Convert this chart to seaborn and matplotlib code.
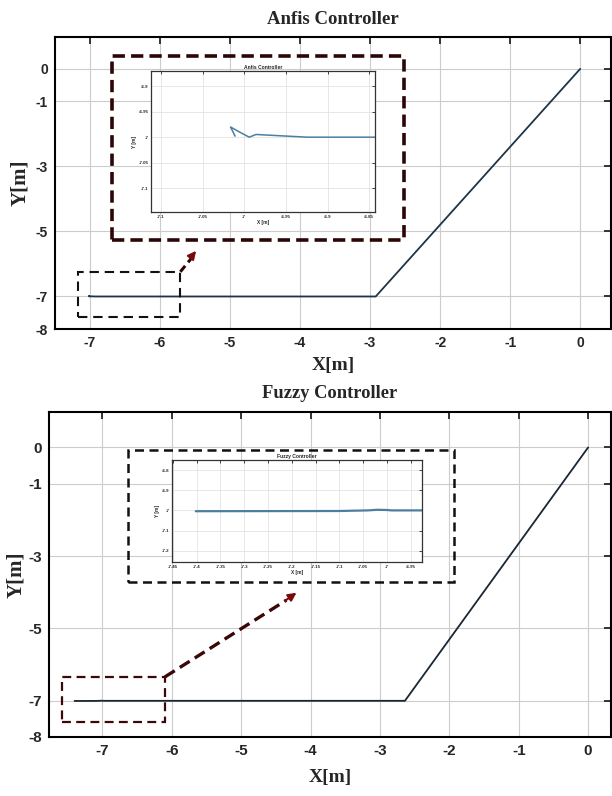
import matplotlib
matplotlib.use("Agg")
import matplotlib.pyplot as plt
import seaborn as sns
from matplotlib.patches import Rectangle

# trajectories (main plots), the end of the path is what the insets show
anfis_x = [0.0, -2.92, -6.842, -6.924, -6.948, -6.986, -6.994, -7.004, -7.0165, -7.011]
anfis_y = [0.0, -7.0, -7.0, -7.0, -6.998, -6.9947, -7.0, -6.9914, -6.980, -6.998]
fuzzy_x = [0.0, -2.64, -6.926, -6.99, -7.0, -7.02, -7.04, -7.1, -7.402]
fuzzy_y = [0.0, -7.0, -7.0, -7.0, -6.998, -6.997, -7.0, -7.003, -7.004]

main_xticks = [-7, -6, -5, -4, -3, -2, -1, 0]
main_yticks = [0, -1, -3, -5, -7, -8]

anfis_in_xticks = [-7.1, -7.05, -7.0, -6.95, -6.9, -6.85]
anfis_in_xlabels = ["-7.1", "-7.05", "-7", "-6.95", "-6.9", "-6.85"]
anfis_in_yticks = [-6.9, -6.95, -7.0, -7.05, -7.1]
anfis_in_ylabels = ["-6.9", "-6.95", "-7", "-7.05", "-7.1"]

fuzzy_in_xticks = [-7.45, -7.4, -7.35, -7.3, -7.25, -7.2, -7.15, -7.1, -7.05, -7.0, -6.95]
fuzzy_in_xlabels = ["-7.45", "-7.4", "-7.35", "-7.3", "-7.25", "-7.2", "-7.15", "-7.1", "-7.05", "-7", "-6.95"]
fuzzy_in_yticks = [-6.8, -6.9, -7.0, -7.1, -7.2]
fuzzy_in_ylabels = ["-6.8", "-6.9", "-7", "-7.1", "-7.2"]

sns.set_style("white")
plt.rcParams["font.family"] = ["Liberation Sans", "DejaVu Sans"]

W, H = 612, 796
fig = plt.figure(figsize=(W / 100, H / 100), dpi=100)


def px_axes(left, top, right, bottom):
    return fig.add_axes([left / W, 1 - bottom / H, (right - left) / W, (bottom - top) / H])


def style_main(ax, xlim, fs):
    ax.set_xlim(*xlim)
    ax.set_ylim(-8, 0.98)
    ax.set_xticks(main_xticks)
    ax.set_yticks(main_yticks)
    ax.set_xticklabels([str(t) for t in main_xticks], fontsize=fs, fontweight="bold")
    ax.set_yticklabels([str(t) for t in main_yticks], fontsize=fs, fontweight="bold")
    ax.grid(True, color="#cccccc", lw=0.8)
    ax.tick_params(direction="in", top=True, right=True, length=5, width=1.3, pad=5)
    for s in ax.spines.values():
        s.set_color("black")
        s.set_linewidth(1.5)


def style_inset(ax, xlim, ylim, xt, xl, yt, yl, title):
    ax.set_xlim(*xlim)
    ax.set_ylim(*ylim)
    ax.set_xticks(xt)
    ax.set_xticklabels(xl, fontsize=3.2, fontweight="bold")
    ax.set_yticks(yt)
    ax.set_yticklabels(yl, fontsize=3.2, fontweight="bold")
    ax.grid(True, color="#dddddd", lw=0.5)
    ax.tick_params(direction="in", top=True, right=True, length=2, width=0.6, pad=2)
    ax.set_title(title, fontsize=3.6, fontweight="bold", pad=1.5)
    ax.set_xlabel("X [m]", fontsize=3.4, fontweight="bold", labelpad=1)
    ax.set_ylabel("Y [m]", fontsize=3.4, fontweight="bold", labelpad=1)
    for s in ax.spines.values():
        s.set_color("#333333")
        s.set_linewidth(0.9)


serif = dict(family="Liberation Serif", fontweight="bold")

# ---------------- Anfis ----------------
ax1 = px_axes(55, 37, 611, 329)
sns.lineplot(x=anfis_x, y=anfis_y, sort=False, estimator=None, color="#1f3547", lw=1.3, ax=ax1)
style_main(ax1, (-7.5, 0.44), 10)
ax1.set_title("Anfis Controller", fontsize=13.5, pad=9, **serif)
ax1.set_xlabel("X[m]", fontsize=14, labelpad=5, **serif)
ax1.set_ylabel("Y[m]", fontsize=15, labelpad=4, **serif)

ax1.add_patch(Rectangle((-6.69, -5.25), 4.18, 5.64, fill=False, ec="#2a0606",
                        lw=2.6, ls=(0, (3.4, 1.7)), zorder=4))
ax1.add_patch(Rectangle((-7.17, -7.62), 1.46, 1.38, fill=False, ec="#111111",
                        lw=1.5, ls=(0, (4.5, 2.8)), zorder=4))
ax1.plot([-5.71, -5.55], [-6.24, -5.82], color="#2a0606", lw=2.2, ls=(0, (2.5, 1.5)), zorder=4)
ax1.annotate("", xy=(-5.46, -5.53), xytext=(-5.56, -5.80),
             arrowprops=dict(arrowstyle="-|>", color="#7a0a0a", lw=1.5,
                             mutation_scale=12), zorder=5)

in1 = px_axes(151, 71, 375, 212)
sns.lineplot(x=anfis_x, y=anfis_y, sort=False, estimator=None, color="#4d7ea0", lw=1.1, ax=in1)
style_inset(in1, (-7.112, -6.843), (-7.147, -6.87), anfis_in_xticks, anfis_in_xlabels,
            anfis_in_yticks, anfis_in_ylabels, "Anfis Controller")

# ---------------- Fuzzy ----------------
ax2 = px_axes(49, 412, 611, 737)
sns.lineplot(x=fuzzy_x, y=fuzzy_y, sort=False, estimator=None, color="#1a2633", lw=1.3, ax=ax2)
style_main(ax2, (-7.77, 0.33), 11)
ax2.set_title("Fuzzy Controller", fontsize=13.3, pad=10, **serif)
ax2.set_xlabel("X[m]", fontsize=14, labelpad=8, **serif)
ax2.set_ylabel("Y[m]", fontsize=15, labelpad=2, **serif)

ax2.add_patch(Rectangle((-6.63, -3.73), 4.70, 3.66, fill=False, ec="#111111",
                        lw=1.8, ls=(0, (3.6, 2.2)), zorder=4))
ax2.add_patch(Rectangle((-7.585, -7.58), 1.485, 1.24, fill=False, ec="#3a0808",
                        lw=1.6, ls=(0, (4.0, 2.4)), zorder=4))
ax2.plot([-6.1, -4.35], [-6.34, -4.22], color="#3a0808", lw=2.4, ls=(0, (3.5, 1.8)), zorder=4)
ax2.annotate("", xy=(-4.17, -3.97), xytext=(-4.4, -4.28),
             arrowprops=dict(arrowstyle="-|>", color="#7a0a0a", lw=1.5,
                             mutation_scale=12), zorder=5)

in2 = px_axes(172, 460, 422, 562)
sns.lineplot(x=fuzzy_x, y=fuzzy_y, sort=False, estimator=None, color="#4d7ea0", lw=1.6, ax=in2)
style_inset(in2, (-7.452, -6.926), (-7.256, -6.75), fuzzy_in_xticks, fuzzy_in_xlabels,
            fuzzy_in_yticks, fuzzy_in_ylabels, "Fuzzy Controller")

fig.savefig("out.png", dpi=100)
